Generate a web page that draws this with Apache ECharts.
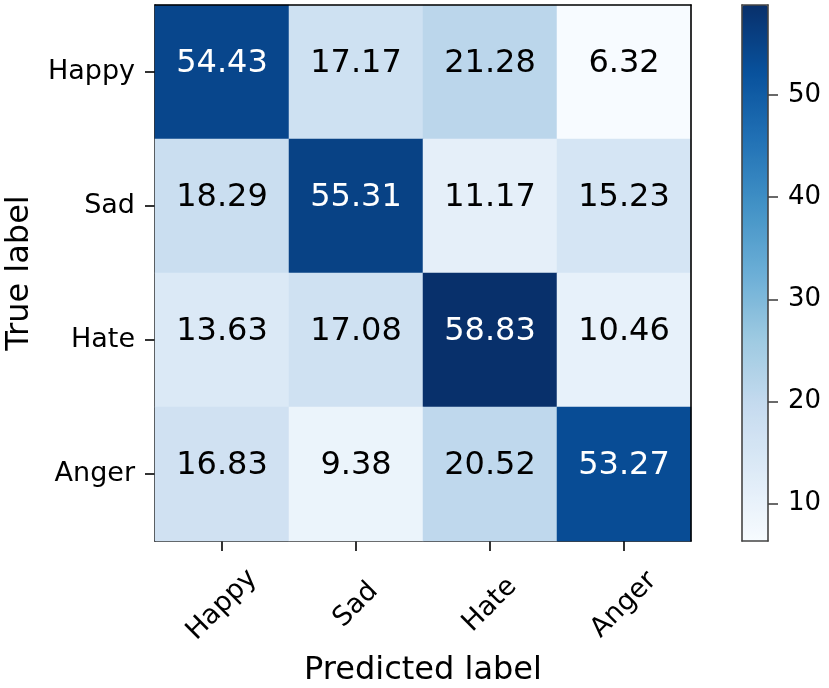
<!DOCTYPE html>
<html>
<head>
<meta charset="utf-8">
<script src="https://cdn.jsdelivr.net/npm/echarts@6/dist/echarts.min.js"></script>
<style>html,body{margin:0;padding:0;background:#fff}#c{width:829px;height:688px}</style>
</head>
<body>
<div id="c"></div>
<script>
const predictedLabels = ['Happy', 'Sad', 'Hate', 'Anger'];
const trueLabels = ['Happy', 'Sad', 'Hate', 'Anger'];
const rowHappy = [54.43, 17.17, 21.28, 6.32];
const rowSad = [18.29, 55.31, 11.17, 15.23];
const rowHate = [13.63, 17.08, 58.83, 10.46];
const rowAnger = [16.83, 9.38, 20.52, 53.27];
const colorbarTicks = [10, 20, 30, 40, 50];
const blues = ['#f7fbff','#deebf7','#c6dbef','#9ecae1','#6baed6','#4292c6','#2171b5','#08519c','#08306b'];

const rows = [rowHappy, rowSad, rowHate, rowAnger];
const data = [];
rows.forEach((r, yi) => r.forEach((v, xi) => data.push([xi, yi, v])));
const allVals = rows.flat();
const vMin = Math.min(...allVals), vMax = Math.max(...allVals);
const thresh = vMax / 2;

const FONT = 'DejaVu Sans';
const lineStyle = { color: '#000', width: 1.6 };
const cbLine = { color: '#444', width: 1.6 };

const chart = echarts.init(document.getElementById('c'));
chart.setOption({
  animation: false,
  textStyle: { fontFamily: FONT },
  grid: [
    { left: 155, top: 5, width: 536, height: 536, containLabel: false, outerBoundsMode: 'none' },
    { left: 742, top: 5, width: 26, height: 536, containLabel: false, outerBoundsMode: 'none' }
  ],
  xAxis: [
    { type: 'category', gridIndex: 0, data: predictedLabels, position: 'bottom',
      axisLine: { show: true, onZero: false, lineStyle },
      axisTick: { show: true, alignWithLabel: true, length: 10, lineStyle: { color: '#000', width: 1.6 } },
      axisLabel: { rotate: 45, align: 'center', verticalAlign: 'middle', margin: 64, fontSize: 27, color: '#000', fontFamily: FONT },
      splitLine: { show: false },
      name: 'Predicted label', nameLocation: 'middle', nameGap: 114,
      nameTextStyle: { fontSize: 32, color: '#000', fontFamily: FONT } },
    { type: 'category', gridIndex: 0, data: predictedLabels, position: 'top', z: 10,
      axisLine: { show: true, onZero: false, lineStyle }, axisTick: { show: false }, axisLabel: { show: false } },
    { type: 'value', gridIndex: 1, min: 0, max: 1, position: 'bottom', z: 10,
      axisLine: { show: true, onZero: false, lineStyle: cbLine }, axisTick: { show: false }, axisLabel: { show: false }, splitLine: { show: false } },
    { type: 'value', gridIndex: 1, min: 0, max: 1, position: 'top', z: 10,
      axisLine: { show: true, onZero: false, lineStyle: cbLine }, axisTick: { show: false }, axisLabel: { show: false }, splitLine: { show: false } }
  ],
  yAxis: [
    { type: 'category', gridIndex: 0, data: trueLabels, inverse: true, position: 'left',
      axisLine: { show: true, onZero: false, lineStyle },
      axisTick: { show: true, alignWithLabel: true, length: 10, lineStyle: { color: '#000', width: 1.6 } },
      axisLabel: { margin: 20, fontSize: 27, color: '#000', fontFamily: FONT },
      splitLine: { show: false },
      name: 'True label', nameLocation: 'middle', nameGap: 119,
      nameTextStyle: { fontSize: 32, color: '#000', fontFamily: FONT } },
    { type: 'category', gridIndex: 0, data: trueLabels, inverse: true, position: 'right', z: 10,
      axisLine: { show: true, onZero: false, lineStyle }, axisTick: { show: false }, axisLabel: { show: false } },
    { type: 'value', gridIndex: 1, min: vMin, max: vMax, position: 'right', z: 10,
      axisLine: { show: true, onZero: false, lineStyle: cbLine },
      axisTick: { show: true, length: 10, customValues: colorbarTicks, lineStyle: cbLine },
      axisLabel: { show: true, margin: 20, fontSize: 26, color: '#000', fontFamily: FONT, customValues: colorbarTicks },
      splitLine: { show: false } },
    { type: 'value', gridIndex: 1, min: vMin, max: vMax, position: 'left', z: 10,
      axisLine: { show: true, onZero: false, lineStyle: cbLine }, axisTick: { show: false }, axisLabel: { show: false }, splitLine: { show: false } }
  ],
  visualMap: {
    type: 'continuous', min: vMin, max: vMax, seriesIndex: 0, z: 1,
    calculable: false, left: 742, top: 5, itemWidth: 26, itemHeight: 536, padding: 0,
    inRange: { color: blues }, text: null, hoverLink: false
  },
  series: [{
    type: 'heatmap', xAxisIndex: 0, yAxisIndex: 0, data: data,
    label: {
      show: true, offset: [0, -8],
      formatter: p => (p.value[2] > thresh ? '{w|' : '{b|') + p.value[2].toFixed(2) + '}',
      rich: {
        w: { color: '#fff', fontSize: 32, fontFamily: FONT },
        b: { color: '#000', fontSize: 32, fontFamily: FONT }
      }
    },
    itemStyle: { borderWidth: 0 },
    emphasis: { disabled: true }
  }]
});
</script>
</body>
</html>
